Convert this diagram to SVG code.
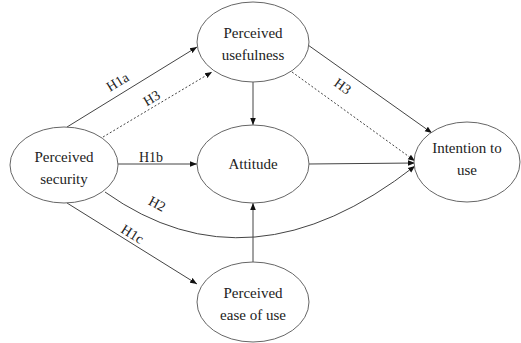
<svg xmlns="http://www.w3.org/2000/svg" width="521" height="343" viewBox="0 0 521 343">
<defs>
<marker id="ah" viewBox="0 0 10 10" refX="10" refY="5" markerWidth="7" markerHeight="7" markerUnits="userSpaceOnUse" orient="auto">
<path d="M0,1 L10,5 L0,9 z" fill="#111"/>
</marker>
<style>
.node ellipse{fill:#fff;stroke:#666;stroke-width:1}
.node text{font-family:"Liberation Serif","Times New Roman",serif;font-size:15px;fill:#222;text-anchor:middle}
.c{fill:none;stroke:#444;stroke-width:1;marker-end:url(#ah)}
.d{stroke-dasharray:2,2}
.lbl{font-family:"Liberation Serif","Times New Roman",serif;font-size:14px;fill:#222;text-anchor:middle}
</style>
</defs>
<rect width="521" height="343" fill="#fff"/>
<g id="connectors">
<path class="c" d="M67,127 L197,47"/>
<path class="c d" d="M103,137 L212,72"/>
<path class="c" d="M118,164 L197,164"/>
<path class="c" d="M253,82 L253,125"/>
<path class="c" d="M308,45 L432,133"/>
<path class="c d" d="M292,72 L415,161"/>
<path class="c" d="M308,164 L415,163"/>
<path class="c" d="M105,192 Q250,295 415,166"/>
<path class="c" d="M67,203 L197,284"/>
<path class="c" d="M253,263 L253,203"/>
<text class="lbl" transform="translate(120,86) rotate(-31.6)">H1a</text>
<text class="lbl" transform="translate(154,102) rotate(-31)">H3</text>
<text class="lbl" x="151" y="162">H1b</text>
<text class="lbl" transform="translate(340,90) rotate(35.5)">H3</text>
<text class="lbl" transform="translate(155,208) rotate(28)">H2</text>
<text class="lbl" transform="translate(130,238) rotate(32)">H1c</text>
</g>
<g id="perceived-usefulness" class="node">
<ellipse cx="253" cy="42" rx="56" ry="40"/>
<text x="253" y="38">Perceived</text>
<text x="253" y="60">usefulness</text>
</g>
<g id="attitude" class="node">
<ellipse cx="253" cy="164" rx="56" ry="39"/>
<text x="253" y="169">Attitude</text>
</g>
<g id="perceived-ease-of-use" class="node">
<ellipse cx="253" cy="302" rx="56" ry="40"/>
<text x="253" y="298">Perceived</text>
<text x="253" y="320">ease of use</text>
</g>
<g id="perceived-security" class="node">
<ellipse cx="64" cy="165" rx="54" ry="38"/>
<text x="64" y="162">Perceived</text>
<text x="64" y="184">security</text>
</g>
<g id="intention-to-use" class="node">
<ellipse cx="467" cy="162" rx="53" ry="40"/>
<text x="467" y="153">Intention to</text>
<text x="467" y="175">use</text>
</g>
</svg>
